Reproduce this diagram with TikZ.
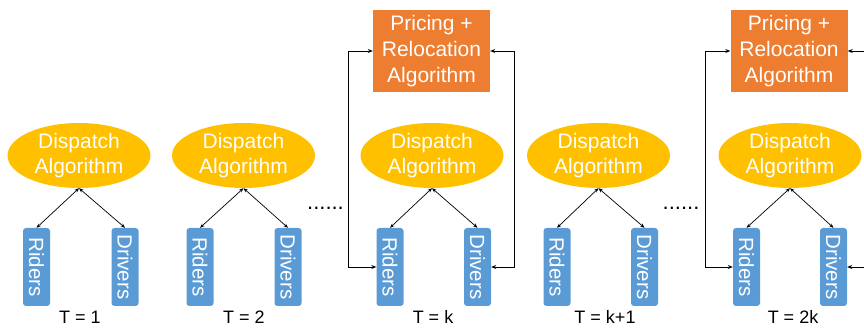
\documentclass[tikz,border=0pt]{standalone}
\usepackage{fontspec}
\setmainfont{Liberation Sans}
\usetikzlibrary{shapes.geometric,arrows.meta}
\definecolor{dispgold}{HTML}{FFC000}
\definecolor{priceorange}{HTML}{ED7D31}
\definecolor{agentblue}{HTML}{5B9BD5}
\tikzset{
  dispatch/.style={ellipse, fill=dispgold, minimum width=143pt, minimum height=65pt,
    inner sep=0pt, text=white, align=center, font=\fontsize{21}{25}\selectfont},
  pricing/.style={rectangle, fill=priceorange, minimum width=117pt, minimum height=82pt,
    inner sep=0pt, text=white, align=center, font=\fontsize{21}{26}\selectfont},
  % rotated clockwise: west is the top edge, south the left edge, north the right edge
  agent/.style={rectangle, rounded corners=3pt, fill=agentblue, minimum width=78pt,
    minimum height=27pt, inner sep=0pt, text=white, rotate=-90,
    font=\fontsize{20.5}{24}\selectfont},
  tlabel/.style={anchor=base, font=\fontsize{18}{20}\selectfont},
  gap/.style={anchor=base, font=\fontsize{22}{24}\selectfont},
  link/.style={draw=black, line width=0.7pt, {Stealth[length=4.5pt,width=3.5pt]}-{Stealth[length=4.5pt,width=3.5pt]}},
  feed/.style={draw=black, line width=0.9pt, {Stealth[length=5pt,width=4pt]}-{Stealth[length=5pt,width=4pt]}},
  feedin/.style={draw=black, line width=0.9pt, -{Stealth[length=5pt,width=4pt]}}
}
\begin{document}
\begin{tikzpicture}[x=1pt,y=-1pt]
\useasboundingbox (0,0) rectangle (864,328);

% dispatch step at every time slot
\foreach \n/\cx/\rx/\vx/\tx/\tt in {1/79/36.5/125/80/{T = 1},
                                     2/243.5/200/288/244/{T = 2},
                                     3/432/390/477.5/433/{T = k},
                                     4/598.5/557/644.5/605/{T = k+1},
                                     5/790/746.5/833.5/793/{T = 2k}} {
  \node[dispatch] (d\n) at (\cx,155.5) {Dispatch\\Algorithm};
  \node[agent] (r\n) at (\rx,267) {Riders};
  \node[agent] (v\n) at (\vx,267) {Drivers};
  \node[tlabel] (t\n) at (\tx,323.5) {\tt};
  \draw[link] (d\n.south) -- (r\n.west);
  \draw[link] (d\n.south) -- (v\n.west);
}

% pricing and relocation every k slots
\node[pricing] (p3) at (431.5,51) {Pricing +\\Relocation\\ Algorithm};
\node[pricing] (p5) at (789,51) {Pricing +\\Relocation\\ Algorithm};

\draw[feed] (r3.south) -- ++(-28,0) |- (p3.west);
\draw[feed] (v3.north) -- ++(23,0) |- (p3.east);
\draw[feed] (r5.south) -- ++(-27,0) |- (p5.west);

\coordinate (o1) at (866,51);
\coordinate (o2) at (866,267);
\draw[feedin] (o1) -- (p5.east);
\draw[feedin] (o2) -- (v5.north);

% skipped time slots
\node[gap] (g1) at (325.5,209.5) {......};
\node[gap] (g2) at (681,209.5) {......};
\end{tikzpicture}
\end{document}
